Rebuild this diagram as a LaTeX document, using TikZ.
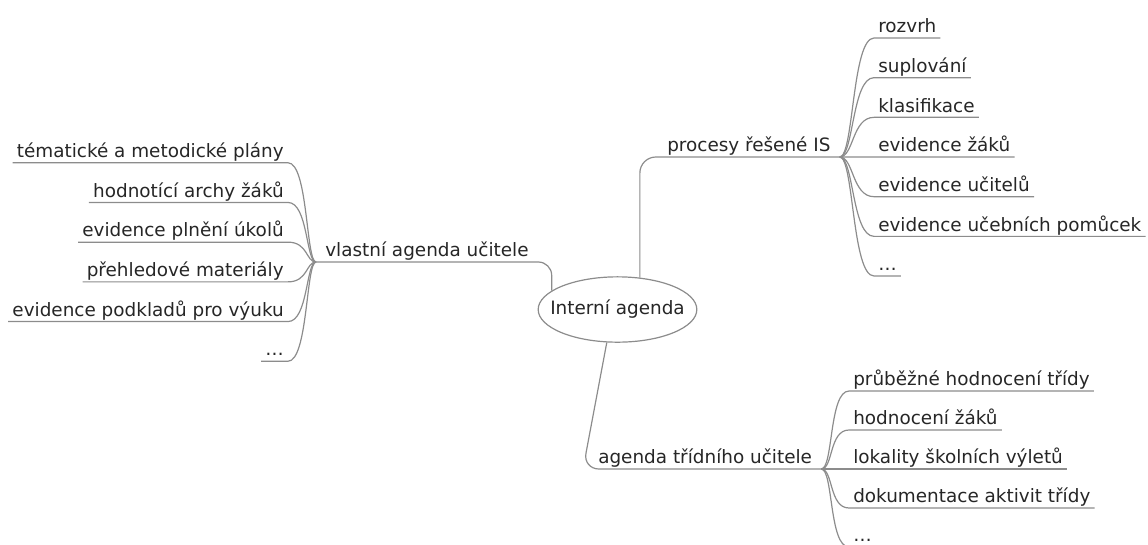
\documentclass[tikz,border=0pt]{standalone}
\usepackage{fontspec}
\setmainfont{DejaVu Sans}
\usetikzlibrary{shapes.geometric}

\begin{document}
\begin{tikzpicture}[x=0.75pt, y=-0.75pt,
	font=\fontsize{13.8pt}{16pt}\selectfont, text=black!85,
	branch/.style={draw=black!45, line width=0.9pt},
	topic/.style={inner xsep=6.75pt, inner ysep=3.75pt, text depth=0pt},
	leaf/.style={inner xsep=3pt, inner ysep=3.75pt, text depth=0pt},
	root/.style={ellipse, draw=black!45, line width=0.9pt, fill=white,
		minimum width=119pt, minimum height=49pt, inner sep=0pt}]
	\useasboundingbox (0,0) rectangle (1148,544);

	% central topic
	\node[root] (root) at (617.5,309.5) {\makebox[0pt]{Interní agenda}};

	% main branches
	\node[topic, anchor=south west] (proc) at (658,157) {procesy řešené IS};
	\node[topic, anchor=south west] (own) at (316,262) {vlastní agenda učitele};
	\node[topic, anchor=south west] (class) at (589,469) {agenda třídního učitele};
	\draw[branch, rounded corners=12pt] (root.55) |- (proc.south east);
	\draw[branch, rounded corners=10pt] (root.164) |- (own.south west);
	\draw[branch, rounded corners=12pt] (root.252) -- (583,469) -- (class.south east);

	% leaves of procesy
	\foreach \txt [count=\n] in {rozvrh, suplování, klasifikace, evidence žáků,
		evidence učitelů, evidence učebních pomůcek, \dots} {
		\node[leaf, anchor=south west] (proc\n) at (874, 39.67*\n-1.67) {\txt};
		\draw[branch] (proc.south east) .. controls +(14,0) and +(-22,0) .. (proc\n.south west) -- (proc\n.south east);
	}

	% leaves of vlastni agenda
	\foreach \txt [count=\n] in {tématické a metodické plány, hodnotící archy žáků,
		evidence plnění úkolů, přehledové materiály, evidence podkladů pro výuku, \dots} {
		\node[leaf, anchor=south east] (own\n) at (288, 123.05+39.7*\n) {\txt};
		\draw[branch] (own.south west) .. controls +(-10,0) and +(20,0) .. (own\n.south east) -- (own\n.south west);
	}

	% leaves of tridni agenda
	\foreach \txt [count=\n] in {průběžné hodnocení třídy, hodnocení žáků,
		lokality školních výletů, dokumentace aktivit třídy, \dots} {
		\node[leaf, anchor=south west] (class\n) at (849, 352+39*\n) {\txt};
		\draw[branch] (class.south east) .. controls +(12,0) and +(-20,0) .. (class\n.south west) -- (class\n.south east);
	}
\end{tikzpicture}
\end{document}
